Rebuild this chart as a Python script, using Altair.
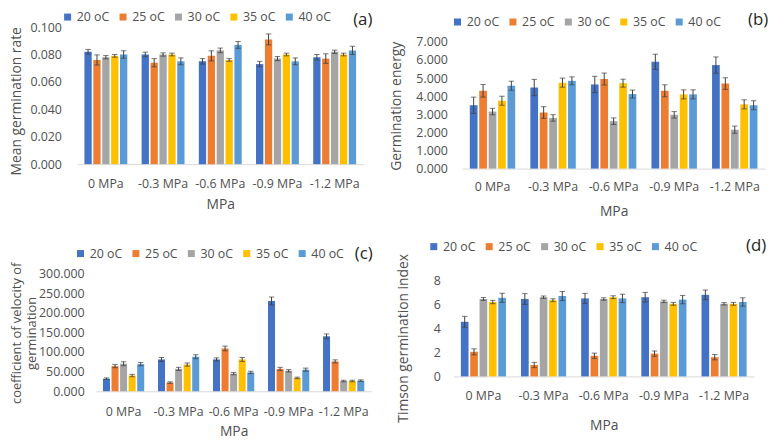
import altair as alt
import pandas as pd

categories = ["0 MPa", "-0.3 MPa", "-0.6 MPa", "-0.9 MPa", "-1.2 MPa"]
temps = ["20 oC", "25 oC", "30 oC", "35 oC", "40 oC"]
colors = ["#4472C4", "#ED7D31", "#A5A5A5", "#FFC000", "#5B9BD5"]

# rows follow categories, columns follow temps
mgr_mean = [
    [0.082, 0.076, 0.078, 0.079, 0.080],
    [0.080, 0.074, 0.080, 0.080, 0.075],
    [0.075, 0.079, 0.083, 0.076, 0.087],
    [0.073, 0.091, 0.077, 0.080, 0.075],
    [0.078, 0.077, 0.082, 0.080, 0.083],
]
mgr_err = [
    [0.0017, 0.0037, 0.0012, 0.0010, 0.0027],
    [0.0017, 0.0030, 0.0012, 0.0010, 0.0025],
    [0.0020, 0.0037, 0.0017, 0.0010, 0.0025],
    [0.0020, 0.0040, 0.0015, 0.0010, 0.0025],
    [0.0020, 0.0035, 0.0012, 0.0010, 0.0030],
]
ge_mean = [
    [3.50, 4.30, 3.15, 3.75, 4.58],
    [4.48, 3.10, 2.80, 4.75, 4.85],
    [4.65, 4.95, 2.62, 4.72, 4.12],
    [5.90, 4.30, 2.97, 4.10, 4.10],
    [5.72, 4.70, 2.15, 3.55, 3.50],
]
ge_err = [
    [0.45, 0.35, 0.18, 0.25, 0.25],
    [0.45, 0.32, 0.18, 0.25, 0.22],
    [0.45, 0.33, 0.18, 0.22, 0.22],
    [0.42, 0.33, 0.18, 0.25, 0.25],
    [0.45, 0.32, 0.20, 0.25, 0.25],
]
cvg_mean = [
    [32, 64, 70, 40, 69],
    [81, 22, 57, 68, 88],
    [81, 109, 45, 81, 48],
    [230, 57, 52, 34, 55],
    [140, 76, 26, 26, 27],
]
cvg_err = [
    [2, 4, 5, 3, 4],
    [5, 2, 4, 4, 5],
    [4, 6, 3, 5, 3],
    [10, 4, 3, 2, 4],
    [6, 4, 2, 2, 2],
]
tgi_mean = [
    [4.55, 2.05, 6.45, 6.20, 6.55],
    [6.45, 0.95, 6.60, 6.35, 6.70],
    [6.50, 1.72, 6.45, 6.60, 6.50],
    [6.60, 1.90, 6.25, 6.05, 6.40],
    [6.80, 1.60, 6.05, 6.05, 6.20],
]
tgi_err = [
    [0.45, 0.25, 0.12, 0.14, 0.38],
    [0.45, 0.22, 0.10, 0.12, 0.38],
    [0.42, 0.22, 0.10, 0.12, 0.35],
    [0.40, 0.22, 0.10, 0.12, 0.35],
    [0.40, 0.22, 0.10, 0.12, 0.35],
]

FONT = "Open Sans"
TXT = "#505050"
ERR = "#404040"


def build_df(means, errs):
    rows = []
    for i, c in enumerate(categories):
        for j, t in enumerate(temps):
            m = means[i][j]
            e = errs[i][j]
            rows.append({"MPa": c, "Temp": t, "value": m, "lo": m - e, "hi": m + e})
    return pd.DataFrame(rows)


def panel(means, errs, cfg):
    df = build_df(means, errs)
    xscale = alt.Scale(domain=categories, range=cfg["xrange"],
                       paddingInner=0.25, paddingOuter=0.125)
    yscale = alt.Scale(domain=cfg["ydomain"], range=cfg["yrange"], nice=False)
    xoff = alt.XOffset("Temp:N", sort=temps,
                       scale=alt.Scale(domain=temps, paddingInner=0.18))
    x_axis = alt.Axis(
        title="MPa", labelAngle=0, ticks=False, tickSize=0, domain=True, grid=False,
        domainColor="#D9D9D9", domainWidth=1, offset=cfg["xoffset"],
        labelPadding=cfg["xlabpad"], labelBaseline="middle",
        labelFont=FONT, labelFontSize=12.5, labelColor=TXT,
        titleFont=FONT, titleFontSize=14, titleFontWeight="normal", titleColor=TXT,
        titleY=cfg["xtitley"], titleBaseline="middle",
    )
    y_axis = alt.Axis(
        title=cfg["ytitle"], values=cfg["yvalues"], format=cfg["yformat"],
        ticks=False, tickSize=0, domain=False, grid=False, offset=cfg["yoffset"],
        labelPadding=cfg["ylabpad"], labelFont=FONT, labelFontSize=12.5, labelColor=TXT,
        titleFont=FONT, titleFontSize=cfg.get("ytitlesize", 14), titleFontWeight="normal",
        titleColor=TXT, titleAngle=270, titleAlign="center", titleBaseline="middle",
        titleX=cfg["ytitlex"], titleY=cfg["ytitley"], titleLineHeight=15,
    )
    legend = alt.Legend(
        title=None, orient="none", direction="horizontal", columns=5,
        legendX=cfg["legx"], legendY=cfg["legy"], symbolType="square",
        symbolSize=50, symbolStrokeWidth=0, labelFont=FONT, labelFontSize=12.5,
        labelColor=TXT, labelOffset=3, columnPadding=cfg["legpad"], padding=0,
        gridAlign="all",
    )
    X = alt.X("MPa:N", sort=categories, scale=xscale, axis=x_axis)
    bars = alt.Chart(df).mark_bar().encode(
        x=X,
        xOffset=xoff,
        y=alt.Y("value:Q", scale=yscale, axis=y_axis),
        color=alt.Color("Temp:N", sort=temps,
                        scale=alt.Scale(domain=temps, range=colors), legend=legend),
    )
    base = alt.Chart(df).encode(x=X, xOffset=xoff)
    rule = base.mark_rule(color=ERR, strokeWidth=1).encode(
        y=alt.Y("lo:Q", scale=yscale, axis=y_axis), y2="hi:Q")
    cap_hi = base.mark_tick(color=ERR, thickness=1, size=5.5, orient="horizontal").encode(
        y=alt.Y("hi:Q", scale=yscale, axis=y_axis))
    cap_lo = base.mark_tick(color=ERR, thickness=1, size=5.5, orient="horizontal").encode(
        y=alt.Y("lo:Q", scale=yscale, axis=y_axis))
    tag = alt.Chart(pd.DataFrame({"t": [cfg["tag"]]})).mark_text(
        font=FONT, fontSize=17, color="#262626", align="center", baseline="middle"
    ).encode(text="t:N", x=alt.value(cfg["tagx"]), y=alt.value(cfg["tagy"]))
    return alt.layer(bars, rule, cap_hi, cap_lo, tag).properties(
        width=cfg["w"], height=cfg["h"])


pa = panel(mgr_mean, mgr_err, dict(
    w=297, h=143, xrange=[0, 289], yrange=[138.5, 0], ydomain=[0, 0.1],
    yvalues=[0, 0.02, 0.04, 0.06, 0.08, 0.1], yformat=".3f",
    ytitle="Mean germination rate", yoffset=0, ylabpad=16, ytitlex=-61, ytitley=74.5,
    xoffset=-4.5, xlabpad=19.5, xtitley=40.5,
    legx=-16, legy=-16.5, legpad=7, tag="(a)", tagx=288.5, tagy=-7))

pb = panel(ge_mean, ge_err, dict(
    w=315, h=143, xrange=[9, 315], yrange=[143, 15], ydomain=[0, 7],
    yvalues=[0, 1, 2, 3, 4, 5, 6, 7], yformat=".3f",
    ytitle="Germination energy", yoffset=-9, ylabpad=15, ytitlex=-66, ytitley=79.5,
    xoffset=0, xlabpad=18, xtitley=43,
    legx=-2, legy=-11.5, legpad=7, tag="(b)", tagx=308, tagy=-7))

pc = panel(cvg_mean, cvg_err, dict(
    w=297, h=119, xrange=[19, 297], yrange=[119, 0], ydomain=[0, 300],
    yvalues=[0, 50, 100, 150, 200, 250, 300], yformat=".3f",
    ytitle=["coefficient of velocity of", "germination"], ytitlesize=13,
    yoffset=-19, ylabpad=12, ytitlex=-80, ytitley=60,
    xoffset=0, xlabpad=20.5, xtitley=41,
    legx=-3, legy=-26.5, legpad=7, tag="(c)", tagx=289.5, tagy=-20))

pd_ = panel(tgi_mean, tgi_err, dict(
    w=315, h=119, xrange=[0, 304], yrange=[104, 7], ydomain=[0, 8],
    yvalues=[0, 2, 4, 6, 8], yformat="d",
    ytitle="Timson germination index", yoffset=0, ylabpad=13, ytitlex=-50, ytitley=65,
    xoffset=-15, xlabpad=19, xtitley=50,
    legx=-26, legy=-33.5, legpad=7, tag="(d)", tagx=306, tagy=-28))

chart = alt.concat(
    pa, pb, pc, pd_, columns=2, bounds="flush",
    spacing={"row": 106, "column": 83},
).resolve_scale(
    color="independent", x="independent", y="independent", xOffset="independent"
).resolve_legend(color="independent").properties(
    padding={"left": 2, "top": 0, "right": 0, "bottom": 0}, background="white"
).configure_view(stroke=None)

chart.save("out.html", embed_options={"renderer": "svg", "actions": False})
